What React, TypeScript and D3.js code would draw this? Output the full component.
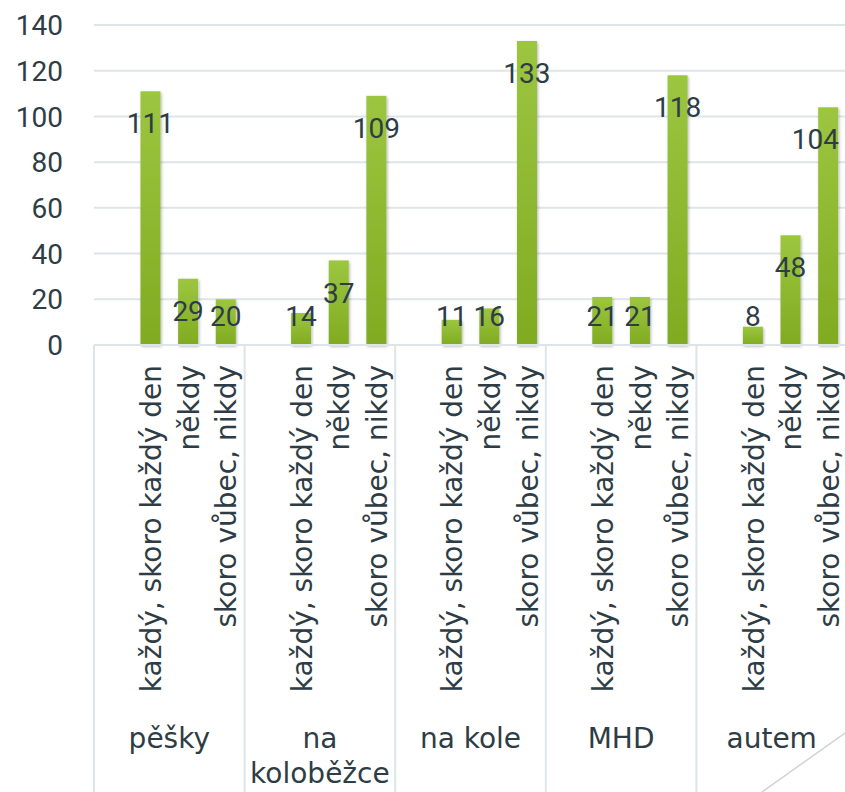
import React, {useEffect, useRef} from 'react'
import {select, scaleBand, scaleLinear} from 'd3'

const groups = ['pěšky', 'na koloběžce', 'na kole', 'MHD', 'autem']
const answers = ['každý, skoro každý den', 'někdy', 'skoro vůbec, nikdy']
const daily = [111, 14, 11, 21, 8]
const sometimes = [29, 37, 16, 21, 48]
const never = [20, 109, 133, 118, 104]
const yTicks = [0, 20, 40, 60, 80, 100, 120, 140]

const textColor = '#2e3d45'
const gridColor = '#dde5e9'

export default function App() {
    const ref = useRef<SVGSVGElement>(null)

    useEffect(() => {
        const width = 845
        const height = 792
        const margin = {top: 25, left: 94, bottom: 447}
        const groupWidth = 150.6

        const svg = select(ref.current)
        svg.selectAll('*').remove()

        const defs = svg.append('defs')
        const grad = defs.append('linearGradient')
            .attr('id', 'barGrad')
            .attr('x1', 0).attr('y1', 0).attr('x2', 0).attr('y2', 1)
        grad.append('stop').attr('offset', '0%').attr('stop-color', '#9cc640')
        grad.append('stop').attr('offset', '100%').attr('stop-color', '#80ab21')
        const shadow = defs.append('filter').attr('id', 'barShadow')
            .attr('x', '-50%').attr('y', '-10%').attr('width', '200%').attr('height', '130%')
        shadow.append('feDropShadow')
            .attr('dx', 1).attr('dy', 1.5).attr('stdDeviation', 1.5)
            .attr('flood-color', '#000').attr('flood-opacity', 0.3)

        const y = scaleLinear().domain([0, 140]).range([height - margin.bottom, margin.top])

        const x0 = scaleBand<string>()
            .domain(groups)
            .range([margin.left, margin.left + groupWidth * groups.length])

        // first slot of every group stays empty, like in the original sheet
        const x1 = scaleBand<string>()
            .domain(['', ...answers])
            .range([0, x0.bandwidth()])
            .paddingInner(0.469)
            .paddingOuter(0.2345)

        // gridlines + tick labels
        const grid = svg.append('g')
        yTicks.forEach(t => {
            if (t > 0) {
                grid.append('line')
                    .attr('x1', margin.left).attr('x2', width)
                    .attr('y1', y(t)).attr('y2', y(t))
                    .attr('stroke', gridColor).attr('stroke-width', 2)
            }
            grid.append('text')
                .attr('x', 63)
                .attr('y', y(t))
                .attr('dy', '0.36em')
                .attr('text-anchor', 'end')
                .attr('font-family', 'Roboto')
                .attr('font-size', 28)
                .attr('fill', textColor)
                .text(t)
        })

        const series = [daily, sometimes, never]
        const rows = groups.flatMap((g, gi) => answers.map((a, ai) => ({
            group: g, answer: a, value: series[ai][gi]
        })))

        const bars = svg.append('g')
        bars.selectAll('rect').data(rows).enter().append('rect')
            .attr('x', d => (x0(d.group) || 0) + (x1(d.answer) || 0))
            .attr('y', d => y(d.value))
            .attr('width', x1.bandwidth())
            .attr('height', d => y(0) - y(d.value))
            .attr('fill', 'url(#barGrad)')
            .attr('filter', 'url(#barShadow)')

        const cx = (d: {group: string, answer: string}) =>
            (x0(d.group) || 0) + (x1(d.answer) || 0) + x1.bandwidth() / 2

        bars.selectAll('text.value').data(rows).enter().append('text')
            .attr('class', 'value')
            .attr('x', cx)
            .attr('y', d => Math.min(y(d.value) + 32, y(0) - 29))
            .attr('dy', '0.36em')
            .attr('text-anchor', 'middle')
            .attr('font-family', 'Roboto')
            .attr('font-size', 28)
            .attr('fill', textColor)
            .text(d => d.value)
            .each(function (d) {
                // keep labels inside the slide, the last one would be clipped
                const w = (this as SVGTextElement).getComputedTextLength()
                const maxX = width - 6 - w / 2
                if (cx(d) > maxX) select(this).attr('x', maxX)
            })

        // category axis
        const axis = svg.append('g')
        axis.append('line')
            .attr('x1', margin.left).attr('x2', width)
            .attr('y1', y(0)).attr('y2', y(0))
            .attr('stroke', gridColor).attr('stroke-width', 2)
        groups.concat(['']).forEach((g, i) => {
            const xx = margin.left + i * groupWidth
            axis.append('line')
                .attr('x1', xx).attr('x2', xx)
                .attr('y1', y(0)).attr('y2', height)
                .attr('stroke', gridColor).attr('stroke-width', 2)
        })

        axis.selectAll('text.answer').data(rows).enter().append('text')
            .attr('class', 'answer')
            .attr('transform', d => `translate(${cx(d)},${y(0) + 20}) rotate(-90)`)
            .attr('dy', '0.38em')
            .attr('text-anchor', 'end')
            .attr('font-family', 'DejaVu Sans')
            .attr('font-size', 28)
            .attr('fill', textColor)
            .text(d => d.answer)

        groups.forEach(g => {
            const t = axis.append('text')
                .attr('x', (x0(g) || 0) + x0.bandwidth() / 2)
                .attr('y', 748)
                .attr('text-anchor', 'middle')
                .attr('font-family', 'DejaVu Sans')
                .attr('font-size', 28)
                .attr('fill', textColor)
                .text(g)
            const len = (t.node() as SVGTextElement).getComputedTextLength()
            if (len > groupWidth - 10) {
                const words = g.split(' ')
                t.text(null)
                words.forEach((w, wi) => {
                    t.append('tspan')
                        .attr('x', (x0(g) || 0) + x0.bandwidth() / 2)
                        .attr('dy', wi === 0 ? 0 : 35)
                        .text(w)
                })
            }
        })

        // slide decoration in the corner
        svg.append('line')
            .attr('x1', 762).attr('y1', height)
            .attr('x2', width).attr('y2', 733)
            .attr('stroke', '#d3d3d3').attr('stroke-width', 1.5)
    }, [])

    return <svg ref={ref} width={845} height={792}
                style={{position: 'absolute', left: 0, top: 0, background: '#fff'}}/>
}
